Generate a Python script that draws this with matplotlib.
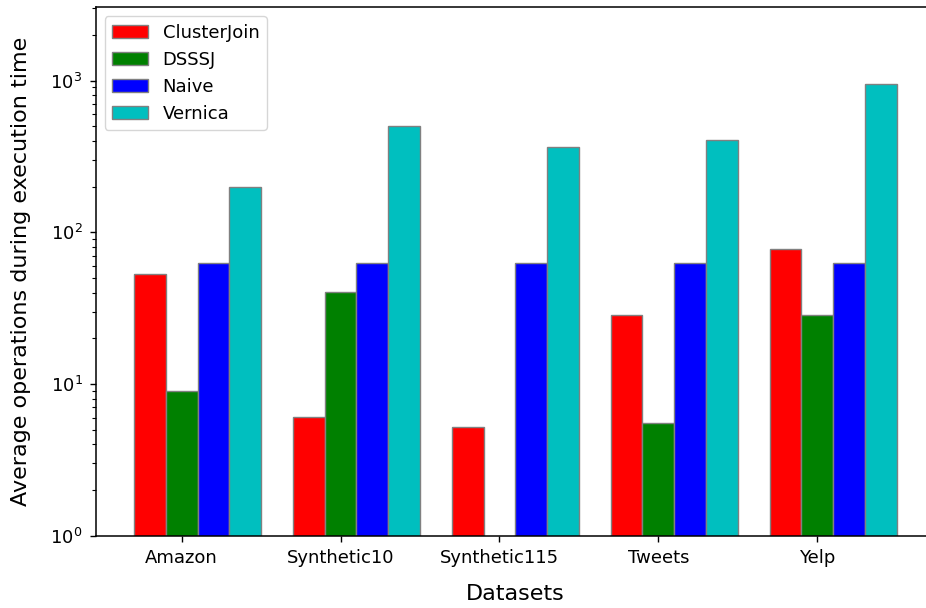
import numpy as np
import matplotlib
matplotlib.use('Agg')
import matplotlib.pyplot as plt

datasets = ['Amazon', 'Synthetic10', 'Synthetic115', 'Tweets', 'Yelp']
methods = ['ClusterJoin', 'DSSSJ', 'Naive', 'Vernica']
cluster_join = [53.1, 6.06, 5.23, 28.6, 77.6]
dsssj = [9.0, 40.2, 0, 5.51, 28.6]
naive = [62.5, 62.5, 62.5, 62.5, 62.5]
vernica = [198, 504, 365, 406, 950]

COLORS = ['r', 'g', 'b', 'c']
bar_width = 0.2

fig = plt.figure(figsize=(9.26, 6.08), dpi=100)
ax = fig.add_axes([0.1035, 0.119, 0.906, 0.869])

r = np.arange(len(datasets))
series = [cluster_join, dsssj, naive, vernica]
for i, (name, vals) in enumerate(zip(methods, series)):
    ax.bar(r + i * bar_width, vals, width=bar_width, color=COLORS[i],
           edgecolor='grey', linewidth=1, label=name)

ax.set_yscale('log')
ax.set_ylim(1, 3040)
ax.set_xticks(r + bar_width)
ax.set_xticklabels(datasets, fontsize=13)
ax.tick_params(axis='y', labelsize=13)
ax.tick_params(which='major', length=4.6, width=1.0, pad=5)
ax.tick_params(which='minor', length=2.6, width=0.8)
for sp in ax.spines.values():
    sp.set_linewidth(1.1)
ax.set_xlabel('Datasets', fontsize=16, labelpad=12)
ax.set_ylabel('Average operations during execution time', fontsize=16, labelpad=14)
ax.legend(loc='upper left', fontsize=13)

fig.savefig('out.png', dpi=100)
